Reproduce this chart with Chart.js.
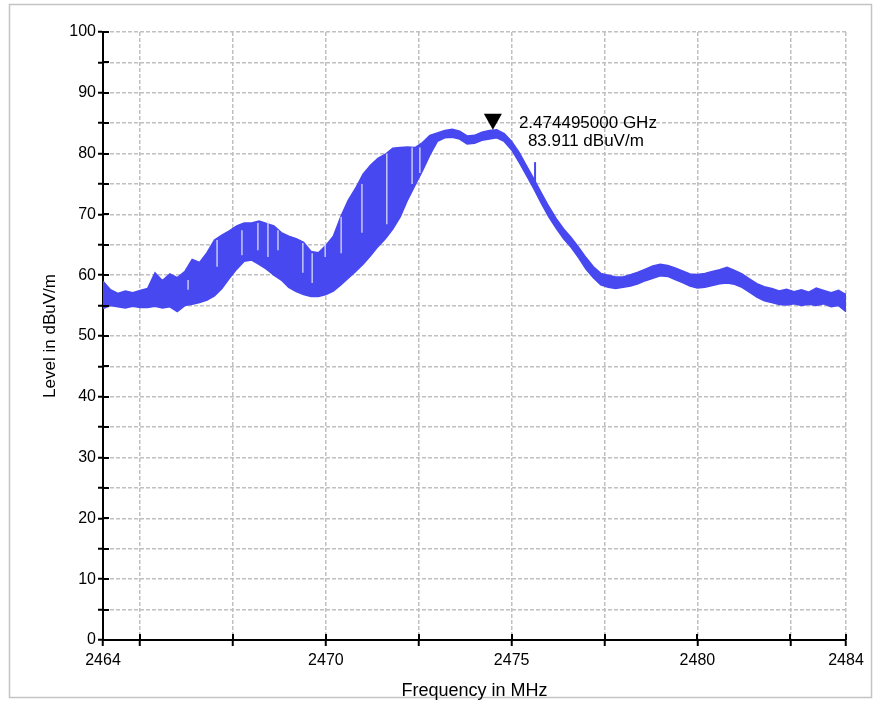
<!DOCTYPE html>
<html>
<head>
<meta charset="utf-8">
<script src="https://cdn.jsdelivr.net/npm/chart.js@4/dist/chart.umd.min.js"></script>
<style>
  html, body { margin: 0; padding: 0; background: #fff; }
  #wrap { width: 874px; height: 702px; }
</style>
</head>
<body>
<div id="wrap"><canvas id="chart" width="874" height="702"></canvas></div>
<script>
// frequency points (MHz) of the trace
const freqs = [
  2464.0, 2464.2, 2464.4, 2464.6, 2464.8, 2465.0, 2465.2, 2465.4, 2465.6, 2465.8,
  2466.0, 2466.2, 2466.4, 2466.6, 2466.8, 2467.0, 2467.2, 2467.4, 2467.6, 2467.8,
  2468.0, 2468.2, 2468.4, 2468.6, 2468.8, 2469.0, 2469.2, 2469.4, 2469.6, 2469.8,
  2470.0, 2470.2, 2470.4, 2470.6, 2470.8, 2471.0, 2471.2, 2471.4, 2471.6, 2471.8,
  2472.0, 2472.2, 2472.4, 2472.6, 2472.8, 2473.0, 2473.2, 2473.4, 2473.6, 2473.8,
  2474.0, 2474.2, 2474.4, 2474.6, 2474.8, 2475.0, 2475.2, 2475.4, 2475.6, 2475.8,
  2476.0, 2476.2, 2476.4, 2476.6, 2476.8, 2477.0, 2477.2, 2477.4, 2477.6, 2477.8,
  2478.0, 2478.2, 2478.4, 2478.6, 2478.8, 2479.0, 2479.2, 2479.4, 2479.6, 2479.8,
  2480.0, 2480.2, 2480.4, 2480.6, 2480.8, 2481.0, 2481.2, 2481.4, 2481.6, 2481.8,
  2482.0, 2482.2, 2482.4, 2482.6, 2482.8, 2483.0, 2483.2, 2483.4, 2483.6, 2483.8,
  2484.0
];

// top of the trace envelope (dBuV/m)
const levelMax = [
  59.0, 57.6, 57.0, 57.4, 57.1, 57.5, 57.8, 60.4, 59.1, 60.2,
  59.6, 60.6, 62.6, 62.1, 63.7, 65.8, 66.6, 67.3, 68.1, 68.6,
  68.6, 68.9, 68.5, 68.1, 67.0, 66.4, 66.0, 65.4, 63.9, 63.7,
  64.9, 66.4, 69.6, 72.3, 74.3, 76.6, 78.1, 79.2, 79.9, 80.9,
  81.0, 81.1, 81.0, 81.8, 83.0, 83.4, 83.8, 84.0, 83.7, 82.9,
  83.0, 83.5, 83.8, 83.9, 83.3, 82.0, 80.2, 78.0, 75.8, 73.5,
  71.3, 69.3, 67.6, 66.2, 64.6, 62.9, 61.4, 60.3, 60.0, 59.7,
  59.7, 60.1, 60.5, 61.0, 61.5, 61.8, 61.6, 61.2, 60.7, 60.2,
  60.1, 60.3, 60.6, 60.9, 61.3, 60.8, 60.2, 59.4, 58.6, 58.1,
  57.8, 57.4, 57.7, 57.3, 57.6, 57.2, 57.9, 57.5, 57.1, 57.5,
  56.8
];

// bottom of the trace envelope (dBuV/m)
const levelMin = [
  54.5, 55.0, 54.8, 54.6, 54.9, 54.7, 54.7, 54.9, 54.6, 54.8,
  54.0, 55.0, 55.2, 55.5, 55.9, 56.6, 57.8, 59.5, 61.0, 62.3,
  62.5, 61.8, 61.0, 60.0, 59.2, 58.0, 57.3, 56.8, 56.5, 56.5,
  56.8, 57.4, 58.4, 59.5, 60.6, 61.8, 63.2, 64.7, 66.0, 67.6,
  69.6, 72.4, 74.8, 77.2, 79.8, 82.0, 82.6, 82.7, 82.4, 81.6,
  81.7, 82.2, 82.4, 82.6, 82.0, 80.6, 78.6, 76.4, 74.2, 71.8,
  69.6, 67.7, 66.0, 64.6, 62.9, 61.0, 59.6, 58.4, 58.0, 57.8,
  58.0, 58.2, 58.6, 59.1, 59.5, 59.9, 59.8, 59.3, 58.8, 58.2,
  57.9, 58.0, 58.3, 58.6, 58.7, 58.5, 58.0, 57.2, 56.4, 55.8,
  55.5, 55.2, 55.1, 55.3, 55.0, 55.2, 55.0, 55.3, 54.8, 55.0,
  54.0
];

// pale sweep gaps inside the hopping band
const gapFreqs   = [2466.29, 2467.07, 2467.74, 2468.17, 2468.44, 2468.71, 2469.38, 2469.63, 2469.98, 2470.41, 2470.97, 2471.64, 2472.32, 2472.53];
const gapTops    = [59.2, 65.8, 67.4, 68.6, 69.0, 67.4, 65.3, 63.6, 65.3, 69.6, 75.0, 80.0, 81.0, 81.0];
const gapBottoms = [57.6, 61.4, 63.3, 64.1, 63.0, 64.1, 60.4, 58.7, 63.0, 63.6, 67.0, 68.4, 75.0, 76.8];

// single narrow spur on the falling edge
const spurFreqs = [2475.63, 2475.63];
const spurLevels = [74.6, 78.6];

// marker
const markerFreq = 2474.495;
const markerLevel = 83.911;
const markerLines = ["2.474495000 GHz", "83.911 dBuV/m"];

// axis ticks
const xTickValues = [2464, 2465, 2467.5, 2470, 2472.5, 2475, 2477.5, 2480, 2482.5, 2484];
const xTickLabels = ["2464", "", "", "2470", "", "2475", "", "2480", "", "2484"];
const yMin = 0, yMax = 100, yStep = 5;

const traceColor = "rgb(72, 72, 240)";
const fontFamily = "'Liberation Sans', Arial, sans-serif";

const pts = (xs, ys) => xs.map((x, i) => ({ x: x, y: ys[i] }));

// each gap is its own short vertical segment, separated by a null
const gapPoints = [];
gapFreqs.forEach((f, i) => {
  gapPoints.push({ x: f, y: gapBottoms[i] }, { x: f, y: gapTops[i] }, { x: f, y: null });
});

// grey frame around the whole picture
const framePlugin = {
  id: "frame",
  beforeDraw(chart) {
    const ctx = chart.ctx;
    ctx.save();
    ctx.fillStyle = "#fff";
    ctx.fillRect(0, 0, chart.width, chart.height);
    ctx.strokeStyle = "#c4c4c4";
    ctx.lineWidth = 1.5;
    ctx.strokeRect(9.5, 4.5, 862, 693);
    ctx.restore();
  }
};

// tick marks that also poke into the plot area, and the peak marker
const extrasPlugin = {
  id: "extras",
  afterDatasetsDraw(chart) {
    const ctx = chart.ctx;
    const xs = chart.scales.x, ys = chart.scales.y;
    const area = chart.chartArea;
    ctx.save();
    ctx.strokeStyle = "#000";
    ctx.lineWidth = 2;
    ctx.beginPath();
    ys.ticks.forEach(t => {
      const py = Math.round(ys.getPixelForValue(t.value));
      ctx.moveTo(area.left, py);
      ctx.lineTo(area.left + 6, py);
    });
    xs.ticks.forEach(t => {
      const px = Math.round(xs.getPixelForValue(t.value));
      ctx.moveTo(px, area.bottom);
      ctx.lineTo(px, area.bottom - 6);
    });
    ctx.stroke();

    // marker triangle, tip on the peak
    const mx = xs.getPixelForValue(markerFreq);
    const my = ys.getPixelForValue(markerLevel);
    ctx.fillStyle = "#000";
    ctx.beginPath();
    ctx.moveTo(mx, my);
    ctx.lineTo(mx - 9, my - 16);
    ctx.lineTo(mx + 9, my - 16);
    ctx.closePath();
    ctx.fill();

    ctx.font = "17px " + fontFamily;
    ctx.textAlign = "left";
    ctx.textBaseline = "alphabetic";
    ctx.fillText(markerLines[0], mx + 26, my - 2);
    ctx.fillText(markerLines[1], mx + 35, my + 16);
    ctx.restore();
  }
};

new Chart(document.getElementById("chart"), {
  type: "line",
  data: {
    datasets: [
      {
        label: "gaps",
        data: gapPoints,
        borderColor: "rgba(225, 225, 255, 0.95)",
        borderWidth: 1.3,
        pointRadius: 0,
        spanGaps: false,
        fill: false,
        order: 0
      },
      {
        label: "max",
        data: pts(freqs, levelMax),
        borderColor: traceColor,
        backgroundColor: traceColor,
        borderWidth: 1.5,
        pointRadius: 0,
        fill: "+1",
        order: 1
      },
      {
        label: "min",
        data: pts(freqs, levelMin),
        borderColor: traceColor,
        borderWidth: 1.5,
        pointRadius: 0,
        fill: false,
        order: 2
      },
      {
        label: "spur",
        data: pts(spurFreqs, spurLevels),
        borderColor: traceColor,
        borderWidth: 2,
        pointRadius: 0,
        fill: false,
        order: 3
      }
    ]
  },
  options: {
    responsive: false,
    animation: false,
    devicePixelRatio: 1,
    layout: { padding: { top: 32, right: 28, left: 0, bottom: 0 } },
    plugins: {
      legend: { display: false },
      tooltip: { enabled: false }
    },
    scales: {
      x: {
        type: "linear",
        min: 2464,
        max: 2484,
        afterBuildTicks: axis => { axis.ticks = xTickValues.map(v => ({ value: v })); },
        afterFit: axis => { axis.height = 62; },
        ticks: {
          autoSkip: false,
          maxRotation: 0,
          padding: 5,
          color: "#000",
          font: { family: fontFamily, size: 16 },
          callback: (v, i) => xTickLabels[i]
        },
        grid: {
          color: "#c0c0c0",
          lineWidth: 1.5,
          tickColor: "#000",
          tickWidth: 2,
          tickLength: 6
        },
        border: { color: "#000", width: 2, dash: [4, 2] },
        title: {
          display: true,
          text: "Frequency in MHz",
          color: "#000",
          font: { family: fontFamily, size: 18 },
          padding: { top: 0, bottom: 0 }
        }
      },
      y: {
        min: yMin,
        max: yMax,
        afterFit: axis => { axis.width = 103; },
        ticks: {
          stepSize: yStep,
          padding: 2,
          color: "#000",
          font: { family: fontFamily, size: 16 },
          callback: v => (v % 10 === 0 ? v : "")
        },
        grid: {
          color: "#c0c0c0",
          lineWidth: 1.5,
          tickColor: "#000",
          tickWidth: 2,
          tickLength: 5
        },
        border: { color: "#000", width: 2, dash: [4, 2] },
        title: {
          display: true,
          text: "Level in dBuV/m",
          color: "#000",
          font: { family: fontFamily, size: 17 },
          padding: { top: 40, bottom: 0 }
        }
      }
    }
  },
  plugins: [framePlugin, extrasPlugin]
});
</script>
</body>
</html>
